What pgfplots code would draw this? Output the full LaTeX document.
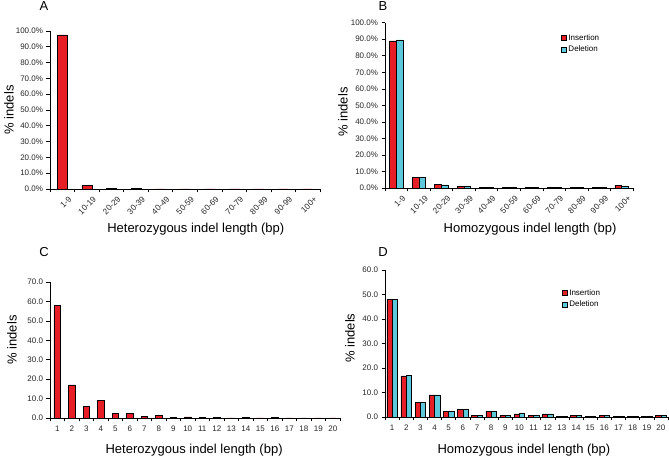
\documentclass[border=0pt]{standalone}
\usepackage{pgfplots}
\pgfplotsset{compat=1.18}
\usepackage{fontspec}
\setmainfont{Liberation Sans}
\definecolor{insred}{RGB}{232,30,38}
\definecolor{delcyan}{RGB}{92,200,218}
\pgfplotsset{
  /pgfplots/ybar legend/.style={/pgfplots/legend image code/.code={\draw[##1,bar shift=0pt] (0pt,-2.6pt) rectangle (5.2pt,2.6pt);}},
  panel/.style={
    scale only axis,
    axis x line*=bottom, axis y line*=left,
    axis line style={-, black, line width=0.6pt},
    tick align=outside, major tick length=0pt, minor tick length=3.5pt,
    tick style={black, line width=0.6pt},
    /pgf/number format/assume math mode=true,
    ymin=0,
    tick label style={font=\fontsize{8}{9}\selectfont, text=black!85},
    yticklabel style={xshift=-3.5pt},
    label style={font=\fontsize{13}{15}\selectfont},
    ylabel={\% indels},
    every axis plot/.append style={draw=black, line width=0.5pt},
    legend style={draw=none, fill=none, font=\fontsize{8}{9}\selectfont,
      row sep=1.5pt, inner sep=0pt, nodes={inner sep=1.5pt}},
    legend cell align=left,
  },
  pctticks/.style={yticklabel={\pgfmathprintnumber[fixed,fixed zerofill,precision=1]{\tick}\%}},
  numticks/.style={yticklabel={\pgfmathprintnumber[fixed,fixed zerofill,precision=1]{\tick}}},
  rangecats/.style={
    xmin=-0.5, xmax=10.5,
    minor xtick={-0.5,0.5,...,10.5},
    xtick={0,...,10},
    xticklabels={1-9,10-19,20-29,30-39,40-49,50-59,60-69,70-79,80-89,90-99,100+},
    xticklabel style={rotate=45, anchor=north east, yshift=-5.5pt, xshift=2.5pt,
        font=\fontsize{8.3}{9}\selectfont},
  },
  lencats/.style={
    xmin=0.5, xmax=20.5,
    minor xtick={0.5,1.5,...,20.5},
    xtick={1,...,20},
    xticklabel style={yshift=-4pt},
  },
}
\begin{document}
\begin{tikzpicture}
\path[use as bounding box] (0,0) rectangle (669pt,457pt);

% Panel A
\begin{axis}[panel, pctticks, rangecats,
  at={(50pt,268pt)}, anchor=south west,
  width=270pt, height=158pt,
  ymax=100, ytick={0,10,...,100}, minor ytick={0,10,...,100},
  ybar, bar width=10pt,
  xlabel={Heterozygous indel length (bp)},
  xlabel style={at={(axis description cs:0.54,-0.253)}, anchor=center},
  ylabel style={at={(axis description cs:-0.152,0.5)}, anchor=center},
]
\addplot[fill=insred] coordinates {(0,97.5) (1,2.3) (2,0.5) (3,0.2) (4,0) (5,0) (6,0) (7,0) (8,0) (9,0) (10,0)};
\end{axis}

% Panel B
\begin{axis}[panel, pctticks, rangecats,
  at={(385pt,269pt)}, anchor=south west,
  width=248pt, height=165.3pt,
  ymax=100, ytick={0,10,...,100}, minor ytick={0,10,...,100},
  ybar=0pt, bar width=6.8pt,
  xlabel={Homozygous indel length (bp)},
  xlabel style={at={(axis description cs:0.585,-0.248)}, anchor=center},
  ylabel style={at={(axis description cs:-0.169,0.46)}, anchor=center},
  legend style={at={(axis description cs:0.71,0.94)}, anchor=north west},
]
\addplot[fill=insred] coordinates {(0,89.0) (1,6.2) (2,2.0) (3,1.0) (4,0.4) (5,0.3) (6,0.3) (7,0.2) (8,0.2) (9,0.2) (10,1.4)};
\addplot[fill=delcyan] coordinates {(0,89.6) (1,6.2) (2,1.9) (3,0.9) (4,0.4) (5,0.3) (6,0.3) (7,0.2) (8,0.2) (9,0.2) (10,1.2)};
\legend{Insertion, Deletion}
\end{axis}

% Panel C
\begin{axis}[panel, numticks, lencats,
  at={(50pt,39pt)}, anchor=south west,
  width=290pt, height=136pt,
  ymax=70, ytick={0,10,...,70}, minor ytick={0,10,...,70},
  ybar, bar width=6.5pt,
  xlabel={Heterozygous indel length (bp)},
  xlabel style={at={(axis description cs:0.497,-0.235)}, anchor=center},
  ylabel style={at={(axis description cs:-0.131,0.574)}, anchor=center},
]
\addplot[fill=insred] coordinates {(1,57.8) (2,17.1) (3,6.0) (4,9.1) (5,2.4) (6,2.2) (7,0.7) (8,1.5) (9,0.3) (10,0.6) (11,0.3) (12,0.5) (13,0.1) (14,0.2) (15,0.1) (16,0.2) (17,0.05) (18,0.05) (19,0.05) (20,0.05)};
\end{axis}

% Panel D
\begin{axis}[panel, numticks, lencats,
  at={(385pt,40pt)}, anchor=south west,
  width=283pt, height=147pt,
  ymax=60, ytick={0,10,...,60}, minor ytick={0,10,...,60},
  ybar=0pt, bar width=5.3pt,
  xlabel={Homozygous indel length (bp)},
  xlabel style={at={(axis description cs:0.491,-0.224)}, anchor=center},
  ylabel style={at={(axis description cs:-0.124,0.537)}, anchor=center},
  legend style={at={(axis description cs:0.625,0.88)}, anchor=north west},
]
\addplot[fill=insred] coordinates {(1,48.0) (2,16.8) (3,6.0) (4,9.0) (5,2.4) (6,3.0) (7,0.8) (8,2.4) (9,0.8) (10,1.3) (11,0.6) (12,1.3) (13,0.3) (14,0.6) (15,0.3) (16,0.6) (17,0.3) (18,0.3) (19,0.3) (20,0.6)};
\addplot[fill=delcyan] coordinates {(1,48.0) (2,17.0) (3,6.0) (4,9.0) (5,2.4) (6,3.0) (7,0.8) (8,2.4) (9,0.8) (10,1.4) (11,0.6) (12,1.3) (13,0.3) (14,0.6) (15,0.3) (16,0.6) (17,0.3) (18,0.3) (19,0.3) (20,0.6)};
\legend{Insertion, Deletion}
\end{axis}

\node[font=\fontsize{13}{14}\selectfont] at (44pt,451pt) {A};
\node[font=\fontsize{13}{14}\selectfont] at (383pt,451pt) {B};
\node[font=\fontsize{13}{14}\selectfont] at (44pt,205pt) {C};
\node[font=\fontsize{13}{14}\selectfont] at (383pt,205pt) {D};
\end{tikzpicture}
\end{document}
